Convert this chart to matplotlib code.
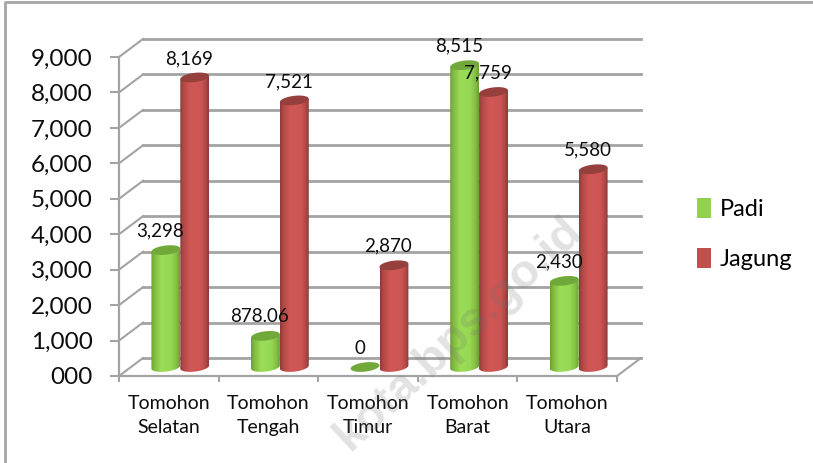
import matplotlib
matplotlib.use("Agg")
import matplotlib.pyplot as plt
from matplotlib.colors import LinearSegmentedColormap
from matplotlib.patches import Patch, Polygon
from matplotlib.lines import Line2D
import numpy as np

plt.rcParams['font.family'] = ['Lato', 'DejaVu Sans']

# data
districts = ["Tomohon\nSelatan", "Tomohon\nTengah", "Tomohon\nTimur", "Tomohon\nBarat", "Tomohon\nUtara"]
padi = [3298, 878.06, 0, 8515, 2430]
jagung = [8169, 7521, 2870, 7759, 5580]
padi_labels = ["3,298", "878.06", "0", "8,515", "2,430"]
jagung_labels = ["8,169", "7,521", "2,870", "7,759", "5,580"]
y_ticks = [0, 1000, 2000, 3000, 4000, 5000, 6000, 7000, 8000, 9000]
y_labels = ["000", "1,000", "2,000", "3,000", "4,000", "5,000", "6,000", "7,000", "8,000", "9,000"]

W, H = 813, 463
GRID = "#a3a3a3"
TEXT = "#0d0d0d"

fig = plt.figure(figsize=(W / 100, H / 100), dpi=100)
# axes box = front plane of the 3d chart
ax = fig.add_axes([119 / W, 1 - 376 / H, 498 / W, 319 / H])
ax.set_xlim(0, 5)
ax.set_ylim(0, 9000)
ax.patch.set_alpha(0)

# depth of the chart in data units
depth_x = 24 / 99.6
depth_y = 18 / 319 * 9000

# walls and floor
for v in y_ticks:
    ax.plot([0, depth_x], [v, v + depth_y], color=GRID, lw=1.5, clip_on=False, zorder=1)
    ax.plot([depth_x, 5 + depth_x], [v + depth_y, v + depth_y], color=GRID, lw=2, clip_on=False, zorder=1)
ax.plot([5, 5 + depth_x], [0, depth_y], color=GRID, lw=1.5, clip_on=False, zorder=1)

for s in ["top", "right"]:
    ax.spines[s].set_visible(False)
for s in ["left", "bottom"]:
    ax.spines[s].set_color(GRID)
    ax.spines[s].set_linewidth(1.6)

ax.set_yticks(y_ticks, y_labels, fontsize=17.5, color=TEXT)
ax.set_xticks(range(6), [""] * 6)
ax.set_xticks(np.arange(5) + 0.5, districts, minor=True, fontsize=14, color=TEXT, linespacing=1.45)
ax.tick_params(axis="y", length=6.5, width=1.5, color=GRID, pad=12.5)
ax.tick_params(axis="x", which="major", length=4, width=1.5, color=GRID)
ax.tick_params(axis="x", which="minor", length=0, pad=14)

green_stops = [(0, "#6d9f35"), (0.1, "#80b83f"), (0.35, "#9bdd57"), (0.7, "#96d853"), (0.9, "#82bd42"), (1, "#6d9f35")]
red_stops = [(0, "#8a3a38"), (0.1, "#b04846"), (0.35, "#d05755"), (0.75, "#cc5553"), (0.9, "#b04846"), (1, "#8a3a38")]
green_cm = LinearSegmentedColormap.from_list("g", green_stops)
red_cm = LinearSegmentedColormap.from_list("r", red_stops)
grad = np.linspace(0, 1, 64).reshape(1, -1)

bar_w = 0.29
ell_h = 260.0
skew = 45.0


def ellipse_xy(cx, y, n=60):
    t = np.linspace(0, 2 * np.pi, n)
    return np.column_stack([cx + bar_w / 2 * np.cos(t),
                            y + ell_h / 2 * np.sin(t) + skew * np.cos(t)])


def cylinder(cx, value, cmap, top_color, z):
    base = depth_y / 2
    top = base + value
    if value > 0:
        t = np.linspace(np.pi, 2 * np.pi, 40)
        lower = np.column_stack([cx + bar_w / 2 * np.cos(t),
                                 base + ell_h / 2 * np.sin(t) + skew * np.cos(t)])
        t2 = np.linspace(0, np.pi, 40)
        upper = np.column_stack([cx + bar_w / 2 * np.cos(t2),
                                 top + skew * np.cos(t2)])
        body = Polygon(np.vstack([lower, upper]), closed=True, transform=ax.transData,
                       fc="none", ec="none")
        ax.add_patch(body)
        im = ax.imshow(grad, cmap=cmap, aspect="auto", zorder=z, interpolation="bilinear",
                       extent=[cx - bar_w / 2, cx + bar_w / 2, base - ell_h, top + ell_h])
        im.set_clip_path(body)
    ax.add_patch(Polygon(ellipse_xy(cx, top), closed=True, fc=top_color, ec="none", zorder=z + 0.1))


# bars, drawn left to right
for i in range(5):
    cx = i + 0.5 + depth_x / 2 - 0.005
    cylinder(cx - bar_w / 2, padi[i], green_cm, "#70a83a", 3 + i * 0.01)
    cylinder(cx + bar_w / 2, jagung[i], red_cm, "#96403e", 4 + i * 0.01)

# value labels sit a fixed distance over the top of each bar
for i in range(5):
    cx = i + 0.5 + depth_x / 2
    ax.annotate(padi_labels[i], (cx - bar_w / 2, padi[i] + depth_y / 2), xytext=(-6, 19),
                textcoords="offset pixels", ha="center", va="center", fontsize=13.5, color=TEXT,
                zorder=10, annotation_clip=False)
    ax.annotate(jagung_labels[i], (cx + bar_w / 2, jagung[i] + depth_y / 2), xytext=(-6, 19),
                textcoords="offset pixels", ha="center", va="center", fontsize=13.5, color=TEXT,
                zorder=10, annotation_clip=False)

ax.set_xlim(0, 5)
ax.set_ylim(0, 9000)

# legend
handles = [Patch(fc="#92d050", ec="none"), Patch(fc="#c0504d", ec="none")]
fig.legend(handles, ["Padi", "Jagung"], loc="center left", bbox_to_anchor=(697 / W, 1 - 234 / H),
           frameon=False, fontsize=17, handlelength=0.6, handleheight=0.92, handletextpad=0.35,
           labelspacing=1.2, borderpad=0, borderaxespad=0)

# outer frame of the pasted picture
fig.add_artist(Line2D([5 / W, 5 / W, 1], [0, 1 - 2 / H, 1 - 2 / H], color="#a6a6a6", lw=2))

# watermark
fig.text(576 / W, 1 - 224 / H, "kota.bps.go.id", rotation=43, rotation_mode="anchor",
         ha="right", va="center", fontsize=34, fontweight="bold", family="Liberation Sans",
         color="#707070", alpha=0.2, zorder=20)

fig.savefig("out.png", dpi=100)
